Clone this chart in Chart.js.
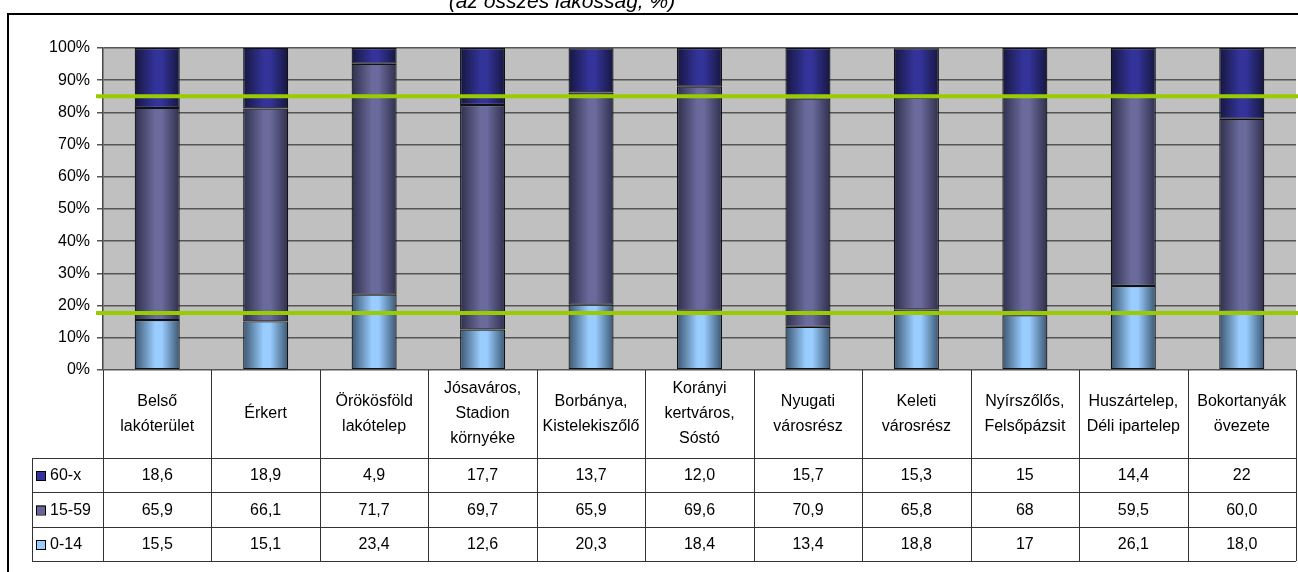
<!DOCTYPE html>
<html>
<head>
<meta charset="utf-8">
<script src="https://cdn.jsdelivr.net/npm/chart.js@4/dist/chart.umd.min.js"></script>
<style>
	html, body { margin: 0; padding: 0; background: #fff; }
	#wrap { position: relative; width: 1298px; height: 572px; }
</style>
</head>
<body>
<div id="wrap"><canvas id="chart" width="1298" height="572"></canvas></div>
<script>
const categories = [
	['Belső', 'lakóterület'],
	['Érkert'],
	['Örökösföld', 'lakótelep'],
	['Jósaváros,', 'Stadion', 'környéke'],
	['Borbánya,', 'Kistelekiszőlő'],
	['Korányi', 'kertváros,', 'Sóstó'],
	['Nyugati', 'városrész'],
	['Keleti', 'városrész'],
	['Nyírszőlős,', 'Felsőpázsit'],
	['Huszártelep,', 'Déli ipartelep'],
	['Bokortanyák', 'övezete'],
];
// values as printed in the table (decimal comma)
const age60x = ['18,6', '18,9', '4,9', '17,7', '13,7', '12,0', '15,7', '15,3', '15', '14,4', '22'];
const age15_59 = ['65,9', '66,1', '71,7', '69,7', '65,9', '69,6', '70,9', '65,8', '68', '59,5', '60,0'];
const age0_14 = ['15,5', '15,1', '23,4', '12,6', '20,3', '18,4', '13,4', '18,8', '17', '26,1', '18,0'];
const seriesNames = ['60-x', '15-59', '0-14'];
const yTicks = [0, 10, 20, 30, 40, 50, 60, 70, 80, 90, 100];
const refLines = [17.7, 85];
const title = '(az összes lakosság, %)';

const num = s => parseFloat(s.replace(',', '.'));
const BAR_PCT = 0.415;
const FONT = '"Liberation Sans", Arial, sans-serif';

function barShade(base, dark) {
	return ctx => {
		const chart = ctx.chart;
		const x = chart.scales.x;
		if (!x || !chart.chartArea) return base;
		const c = x.getPixelForValue(ctx.dataIndex);
		const hw = (x.width / categories.length) * BAR_PCT / 2;
		const g = chart.ctx.createLinearGradient(c - hw, 0, c + hw, 0);
		g.addColorStop(0, dark);
		g.addColorStop(0.45, base);
		g.addColorStop(0.6, base);
		g.addColorStop(1, dark);
		return g;
	};
}

const colors = {
	'60-x': { base: '#333399', dark: '#16163f', flat: '#333399' },
	'15-59': { base: '#6a6a9c', dark: '#2f2f4c', flat: '#666699' },
	'0-14': { base: '#99ccff', dark: '#3a5670', flat: '#99ccff' },
};

const plotBg = {
	id: 'plotBg',
	beforeDraw(chart) {
		const { ctx, chartArea: a } = chart;
		ctx.save();
		ctx.fillStyle = '#c0c0c0';
		ctx.fillRect(a.left, a.top, a.right - a.left, a.bottom - a.top);
		ctx.restore();
	},
};

const extras = {
	id: 'extras',
	afterDraw(chart) {
		const { ctx, chartArea: a } = chart;
		const x = chart.scales.x;
		const y = chart.scales.y;
		const colW = x.width / categories.length;
		ctx.save();

		// reference lines
		ctx.strokeStyle = '#99cc00';
		ctx.lineWidth = 4;
		refLines.forEach(v => {
			const py = y.getPixelForValue(v);
			ctx.beginPath();
			ctx.moveTo(96, py);
			ctx.lineTo(chart.width, py);
			ctx.stroke();
		});

		// data table
		const top = a.bottom;
		const rowTops = [458, 492, 527, 561];
		const legendLeft = 32;
		ctx.strokeStyle = '#333';
		ctx.lineWidth = 1;
		for (let i = 0; i <= categories.length; i++) {
			const px = Math.round(a.left + i * colW) + 0.5;
			ctx.beginPath();
			ctx.moveTo(px, top);
			ctx.lineTo(px, rowTops[3]);
			ctx.stroke();
		}
		ctx.beginPath();
		ctx.moveTo(legendLeft + 0.5, rowTops[0]);
		ctx.lineTo(legendLeft + 0.5, rowTops[3]);
		ctx.stroke();
		rowTops.forEach(ry => {
			ctx.beginPath();
			ctx.moveTo(legendLeft, ry + 0.5);
			ctx.lineTo(a.right, ry + 0.5);
			ctx.stroke();
		});

		ctx.fillStyle = '#000';
		ctx.font = '16px ' + FONT;
		ctx.textAlign = 'center';
		ctx.textBaseline = 'middle';
		const headMid = (top + rowTops[0]) / 2;
		categories.forEach((lines, i) => {
			const cx = x.getPixelForValue(i);
			const lh = 25;
			const start = headMid - (lines.length - 1) * lh / 2;
			lines.forEach((t, j) => ctx.fillText(t, cx, start + j * lh));
		});

		const rows = [age60x, age15_59, age0_14];
		rows.forEach((vals, r) => {
			const cy = (rowTops[r] + rowTops[r + 1]) / 2 + 1;
			vals.forEach((v, i) => {
				ctx.fillText(v, x.getPixelForValue(i), cy);
			});
			const name = seriesNames[r];
			ctx.fillStyle = colors[name].flat;
			ctx.fillRect(36, cy - 5, 9, 9);
			ctx.strokeStyle = '#000';
			ctx.strokeRect(36.5, cy - 4.5, 9, 9);
			ctx.fillStyle = '#000';
			ctx.textAlign = 'left';
			ctx.fillText(name, 50, cy);
			ctx.textAlign = 'center';
		});

		// outer frame
		ctx.strokeStyle = '#000';
		ctx.lineWidth = 2;
		ctx.strokeRect(8, 14, chart.width + 10, chart.height + 10);

		// title (cut at the top of the page)
		ctx.font = 'italic 21px ' + FONT;
		ctx.textBaseline = 'alphabetic';
		ctx.fillText(title, 562, 8);
		ctx.restore();
	},
};

const datasets = [
	{ label: '0-14', data: age0_14.map(num) },
	{ label: '15-59', data: age15_59.map(num) },
	{ label: '60-x', data: age60x.map(num) },
].map(d => ({
	...d,
	backgroundColor: barShade(colors[d.label].base, colors[d.label].dark),
	borderColor: '#111',
	borderWidth: 1.2,
	borderSkipped: false,
	barPercentage: BAR_PCT,
	categoryPercentage: 1,
}));

new Chart(document.getElementById('chart'), {
	type: 'bar',
	data: {
		labels: categories.map(c => c.join(' ')),
		datasets: datasets,
	},
	options: {
		responsive: false,
		animation: false,
		layout: { padding: { left: 40, top: 48, right: 2, bottom: 202 } },
		plugins: {
			legend: { display: false },
			tooltip: { enabled: false },
		},
		scales: {
			x: { stacked: true, display: false },
			y: {
				stacked: true,
				min: 0,
				max: 100,
				afterFit(s) { s.width = 63; },
				afterBuildTicks(s) { s.ticks = yTicks.map(v => ({ value: v })); },
				ticks: {
					callback: v => v + '%',
					color: '#000',
					padding: 7,
					font: { family: FONT, size: 16 },
				},
				grid: { color: '#555', lineWidth: 1.5, tickLength: 6 },
				border: { color: '#444', width: 1.5 },
			},
		},
	},
	plugins: [plotBg, extras],
});
</script>
</body>
</html>
